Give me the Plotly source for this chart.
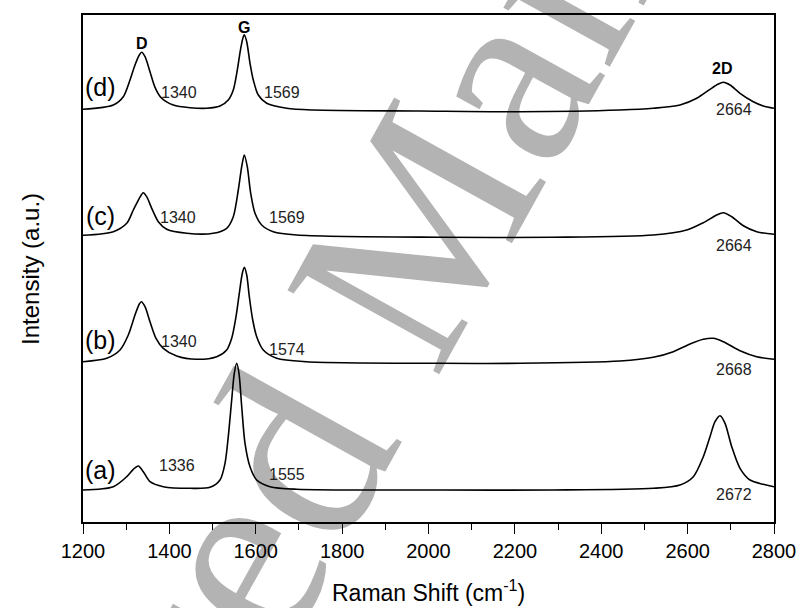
import plotly.graph_objects as go

# ---- data (x: Raman shift cm-1, y: intensity a.u., stacked) ----
x_d = [1200, 1270.2, 1293.3, 1308.8, 1320.4, 1330.4, 1335.9, 1343.6, 1355.1, 1366.7, 1382.2, 1409.1,
       1447.8, 1486.4, 1517.2, 1536.4, 1548.0, 1557.3, 1565.2, 1571.2, 1573.5, 1579.1, 1586.7, 1594.3,
       1605.9, 1625.3, 1671.7, 1732.6, 1980.3, 2211.9, 2443.4, 2520.5, 2582.4, 2621.1, 2651.8, 2671.1,
       2682.6, 2698.2, 2721.3, 2752.1, 2775.3, 2800]
y_d = [412.7, 417, 425.3, 442, 457, 467, 469.7, 465.3, 450.3, 434.7, 423.7, 417,
       414.3, 413.7, 416, 422, 432, 452, 473.7, 485.3, 487.3, 480.3, 458.7, 442,
       427, 418.7, 413.7, 412, 411, 410.3, 412, 413.7, 417, 423.7, 432.7, 438,
       439.7, 437, 428.7, 420.3, 416, 413.7]

x_c = [1200, 1270.2, 1301.2, 1316.5, 1330.4, 1339.6, 1347.5, 1359.1, 1374.4, 1393.8, 1440.1, 1501.7,
       1532.7, 1548.0, 1559.6, 1567.5, 1573.5, 1580.4, 1588.3, 1598.3, 1613.8, 1640.6, 1694.8, 2026.6,
       2289.0, 2520.5, 2597.9, 2636.3, 2667.4, 2682.6, 2702.1, 2729.0, 2760.0, 2800]
y_c = [286.7, 290.3, 298.7, 312, 323.7, 329.3, 325.3, 313.7, 300.3, 292.7, 288.7, 288.7,
       293.7, 305.3, 332, 355.3, 367, 355.3, 328.7, 308.7, 297, 290.3, 287, 284.7,
       284.7, 287, 292, 299.3, 307, 309.3, 305.3, 296.3, 290.3, 287.7]

x_b = [1200, 1254.9, 1285.7, 1304.9, 1320.4, 1330.4, 1335.0, 1343.6, 1355.1, 1369.0, 1385.9, 1416.9,
       1463.3, 1509.6, 1532.7, 1544.3, 1554.3, 1561.9, 1568.9, 1573.5, 1579.1, 1585.1, 1593.0, 1602.2,
       1617.5, 1648.5, 1718.0, 2026.6, 2211.9, 2443.4, 2520.5, 2566.8, 2605.5, 2636.3, 2659.5, 2682.6,
       2721.3, 2760.0, 2800]
y_b = [160.3, 163.7, 172, 187, 207, 218, 220.3, 215.3, 200.3, 183.7, 173.7, 166,
       162.7, 165.3, 172, 183.7, 205.3, 228.7, 248.7, 254.7, 247, 225.3, 202, 185.3,
       172, 163.7, 160.3, 158.7, 158.7, 161, 164.7, 170.3, 178, 182.7, 183.7, 180.3,
       171.3, 165.3, 162.7]

x_a = [1200, 1270.2, 1301.2, 1316.5, 1328.0, 1339.6, 1355.1, 1385.9, 1447.8, 1494.1, 1517.2, 1528.8,
       1536.4, 1544.3, 1550.3, 1555.9, 1561.2, 1567.5, 1575.1, 1586.7, 1602.2, 1633.0, 1694.8, 2026.6,
       2289.0, 2520.5, 2582.4, 2613.2, 2636.3, 2651.8, 2663.4, 2675.0, 2686.6, 2702.1, 2721.3, 2744.5,
       2775.3, 2800]
y_a = [32, 35.3, 45.3, 52.7, 56, 50.3, 40.3, 35.3, 33.7, 34.7, 42, 58.7,
       85.3, 122, 148.7, 158.7, 148.7, 115.3, 78.7, 55.3, 42, 35.3, 32.7, 32,
       32, 33.7, 37, 45.3, 65.3, 85.3, 100.3, 106.3, 98.7, 75.3, 53.7, 42,
       37.7, 35.3]

sample_labels = ["(d)", "(c)", "(b)", "(a)"]
sample_label_y = [435, 306, 182, 52]

# peak position labels: (text, x, y)
peak_texts = ["1340", "1569", "1340", "1569", "1340", "1574", "1336", "1555",
              "2664", "2664", "2668", "2672"]
peak_text_x = [1422.3, 1660.8, 1420.0, 1672.4, 1422.3, 1672.4, 1417.7, 1672.4,
               2707.4, 2707.4, 2707.4, 2707.4]
peak_text_y = [430, 430, 305, 305, 181, 173, 57, 48, 413, 277, 153, 28]

band_names = ["D", "G", "2D"]
band_x = [1336.6, 1572.8, 2679.6]
band_y = [479, 495, 454]

x_ticks = [1200, 1400, 1600, 1800, 2000, 2200, 2400, 2600, 2800]

FONT = "Liberation Sans, Arial, sans-serif"

fig = go.Figure()
for xs, ys in [(x_d, y_d), (x_c, y_c), (x_b, y_b), (x_a, y_a)]:
    fig.add_trace(go.Scatter(x=xs, y=ys, mode="lines",
                             line=dict(color="black", width=1.6, shape="spline", smoothing=0.8),
                             showlegend=False, hoverinfo="skip"))

for t, yv in zip(sample_labels, sample_label_y):
    fig.add_annotation(x=1239.4, y=yv, text=t, showarrow=False,
                       font=dict(family=FONT, size=25, color="black"))
for t, xv, yv in zip(peak_texts, peak_text_x, peak_text_y):
    fig.add_annotation(x=xv, y=yv, text=t, showarrow=False,
                       font=dict(family=FONT, size=16, color="#222"))
for t, xv, yv in zip(band_names, band_x, band_y):
    fig.add_annotation(x=xv, y=yv, text="<b>" + t + "</b>", showarrow=False,
                       font=dict(family=FONT, size=16, color="black"))

# axis titles
fig.add_annotation(xref="paper", yref="paper", x=0.5, y=-0.137, yanchor="middle",
                   text="Raman Shift (cm<sup>-1</sup>)", showarrow=False,
                   font=dict(family=FONT, size=23, color="black"))
fig.add_annotation(xref="paper", yref="paper", x=-0.076, y=0.5, xanchor="center",
                   text="Intensity (a.u.)", textangle=-90, showarrow=False,
                   font=dict(family=FONT, size=24, color="black"))

# watermark of the source image
fig.add_shape(type="rect", xref="paper", yref="paper", x0=0.405, x1=0.415, y0=0.507, y1=0.517,
              line=dict(width=0), fillcolor="rgba(0,0,0,0)", layer="below",
              label=dict(text="Accepted Manuscript", textangle=-61, textposition="middle center",
                         font=dict(family="Liberation Serif, Times New Roman, serif", size=265,
                                   color="#b3b3b3")))

fig.update_layout(
    width=801, height=608,
    margin=dict(l=83, r=27, t=15, b=86),
    paper_bgcolor="white", plot_bgcolor="white",
    xaxis=dict(range=[1200, 2800], showline=True, mirror=True, linecolor="black", linewidth=1.6,
               showgrid=False, zeroline=False, automargin=False,
               ticks="outside", ticklen=10, tickwidth=1.3,
               tickcolor="black", tickvals=x_ticks,
               tickfont=dict(family=FONT, size=20, color="black"),
               minor=dict(dtick=100, tick0=1200, ticks="outside", ticklen=6, tickwidth=1.3,
                          tickcolor="black", showgrid=False)),
    yaxis=dict(range=[0, 507], showline=True, mirror=True, linecolor="black", linewidth=1.6,
               showgrid=False, zeroline=False, automargin=False, showticklabels=False, ticks=""),
)

fig.write_html("out.html", config={"displayModeBar": False},
               post_script="document.body.style.margin='0';document.body.style.overflow='hidden';")
